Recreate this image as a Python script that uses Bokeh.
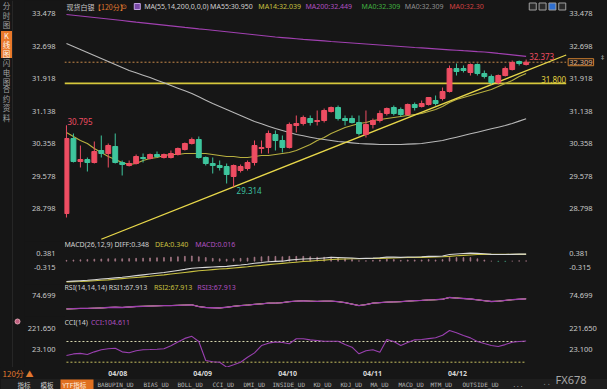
from bokeh.plotting import figure
from bokeh.models import ColumnDataSource, Range1d, LinearAxis, FixedTicker, Label, NumeralTickFormatter
from bokeh.layouts import column, row
from bokeh.embed import file_html
from bokeh.resources import INLINE
from bokeh.core.properties import value

# ---------------- data ----------------
opens = [28.678, 30.478, 29.926, 29.974, 29.902, 30.190, 30.118, 30.286, 29.902, 29.830,
         29.878, 30.022, 29.998, 30.094, 30.022, 30.022, 30.094, 30.214, 30.358, 30.454,
         30.022, 29.878, 29.830, 29.806, 29.566, 29.710, 29.758, 29.902, 30.238, 30.262,
         30.574, 30.430, 30.262, 30.790, 30.838, 30.958, 30.886, 30.910, 31.126, 31.222,
         30.958, 30.958, 30.862, 30.574, 30.814, 30.910, 31.078, 31.222, 31.174, 31.054,
         31.294, 31.246, 31.294, 31.390, 31.438, 31.606, 32.158, 32.158, 32.062, 32.254,
         32.038, 31.966, 31.822, 31.990, 32.134, 32.326, 32.254]
highs = [30.795, 30.598, 30.310, 30.022, 30.406, 30.550, 30.358, 30.598, 29.950, 29.950,
         30.094, 30.118, 30.118, 30.166, 30.118, 30.190, 30.262, 30.382, 30.502, 30.526,
         30.046, 30.022, 29.950, 29.878, 29.854, 29.854, 29.950, 30.430, 30.430, 30.670,
         30.670, 30.550, 30.862, 31.030, 31.030, 31.030, 31.150, 31.198, 31.246, 31.270,
         31.030, 31.030, 31.030, 31.150, 30.958, 31.150, 31.222, 31.270, 31.222, 31.318,
         31.342, 31.390, 31.462, 31.510, 31.702, 32.230, 32.278, 32.230, 32.278, 32.278,
         32.110, 32.014, 32.014, 32.206, 32.350, 32.350, 32.373]
lows = [28.582, 29.902, 29.782, 29.686, 29.878, 30.022, 29.782, 29.878, 29.590, 29.806,
        29.854, 29.902, 29.974, 30.022, 29.998, 29.998, 30.070, 30.190, 30.334, 29.998,
        29.830, 29.638, 29.710, 29.398, 29.314, 29.662, 29.710, 29.830, 30.118, 30.118,
        30.190, 30.142, 30.238, 30.622, 30.790, 30.790, 30.790, 30.862, 31.102, 30.910,
        30.790, 30.838, 30.550, 30.502, 30.718, 30.862, 31.030, 31.030, 31.006, 31.030,
        31.150, 31.222, 31.270, 31.270, 31.390, 31.582, 31.990, 32.062, 31.990, 31.990,
        31.918, 31.774, 31.774, 31.966, 32.110, 32.230, 32.230]
closes = [30.478, 29.926, 29.974, 29.902, 30.166, 30.118, 30.310, 29.902, 29.854, 29.878,
          30.046, 29.998, 30.094, 30.046, 30.094, 30.118, 30.238, 30.358, 30.454, 30.022,
          29.878, 29.830, 29.782, 29.614, 29.830, 29.806, 29.902, 30.310, 30.262, 30.598,
          30.430, 30.262, 30.814, 30.838, 30.982, 30.862, 30.910, 31.150, 31.222, 30.958,
          30.910, 30.862, 30.598, 30.814, 30.910, 31.078, 31.198, 31.078, 31.054, 31.294,
          31.222, 31.318, 31.462, 31.318, 31.606, 32.158, 32.086, 32.110, 32.254, 32.038,
          31.966, 31.822, 31.990, 32.158, 32.302, 32.278, 32.309]
ma14 = [30.622, 30.526, 30.430, 30.358, 30.238, 30.142, 30.046, 29.974, 29.902, 29.854,
        29.878, 29.950, 29.998, 30.022, 30.070, 30.094, 30.094, 30.118, 30.118, 30.118,
        30.118, 30.094, 30.070, 30.046, 30.046, 30.022, 30.022, 30.046, 30.070, 30.070,
        30.094, 30.118, 30.142, 30.190, 30.262, 30.334, 30.430, 30.502, 30.598, 30.670,
        30.742, 30.790, 30.838, 30.862, 30.910, 30.934, 30.958, 30.982, 31.006, 31.030,
        31.054, 31.078, 31.126, 31.174, 31.246, 31.342, 31.414, 31.462, 31.510, 31.558,
        31.606, 31.654, 31.726, 31.798, 31.870, 31.966, 32.039]
ma55 = [32.758, 32.686, 32.614, 32.542, 32.470, 32.398, 32.326, 32.254, 32.182, 32.110,
        32.054, 31.998, 31.942, 31.878, 31.814, 31.750, 31.686, 31.622, 31.558, 31.478,
        31.398, 31.318, 31.246, 31.174, 31.102, 31.030, 30.958, 30.886, 30.830, 30.774,
        30.718, 30.670, 30.622, 30.574, 30.542, 30.510, 30.478, 30.454, 30.430, 30.406,
        30.390, 30.374, 30.358, 30.350, 30.342, 30.334, 30.334, 30.334, 30.334, 30.342,
        30.350, 30.358, 30.382, 30.406, 30.430, 30.470, 30.510, 30.550, 30.590, 30.630,
        30.670, 30.710, 30.750, 30.790, 30.840, 30.895, 30.950]
ma200 = [33.454, 33.436, 33.418, 33.400, 33.382, 33.364, 33.346, 33.328, 33.310, 33.290,
         33.270, 33.252, 33.234, 33.216, 33.198, 33.180, 33.162, 33.144, 33.128, 33.110,
         33.094, 33.076, 33.058, 33.040, 33.022, 33.004, 32.986, 32.968, 32.950, 32.932,
         32.914, 32.900, 32.886, 32.872, 32.858, 32.845, 32.832, 32.819, 32.806, 32.794,
         32.782, 32.770, 32.758, 32.746, 32.734, 32.722, 32.710, 32.698, 32.686, 32.674,
         32.662, 32.651, 32.640, 32.629, 32.618, 32.607, 32.596, 32.585, 32.575, 32.564,
         32.554, 32.538, 32.520, 32.503, 32.485, 32.467, 32.449]
diff = [-1.01, -0.99, -0.97, -0.95, -0.92, -0.89, -0.86, -0.83, -0.80, -0.76,
        -0.72, -0.68, -0.64, -0.60, -0.56, -0.51, -0.46, -0.41, -0.35, -0.33,
        -0.31, -0.29, -0.27, -0.26, -0.22, -0.19, -0.15, -0.10, -0.07, -0.03,
        -0.01, 0.00, 0.05, 0.08, 0.11, 0.12, 0.13, 0.16, 0.19, 0.18,
        0.17, 0.16, 0.13, 0.14, 0.15, 0.17, 0.20, 0.20, 0.19, 0.21,
        0.21, 0.22, 0.24, 0.24, 0.26, 0.33, 0.36, 0.38, 0.40, 0.39,
        0.37, 0.34, 0.33, 0.33, 0.34, 0.35, 0.348]
dea = [-1.03, -1.02, -1.01, -0.99, -0.97, -0.95, -0.93, -0.90, -0.87, -0.84,
       -0.81, -0.78, -0.75, -0.71, -0.68, -0.64, -0.60, -0.56, -0.52, -0.48,
       -0.45, -0.42, -0.39, -0.37, -0.34, -0.31, -0.28, -0.24, -0.21, -0.17,
       -0.14, -0.11, -0.08, -0.05, -0.02, 0.00, 0.03, 0.05, 0.08, 0.10,
       0.11, 0.12, 0.12, 0.13, 0.13, 0.14, 0.15, 0.16, 0.17, 0.18,
       0.18, 0.19, 0.20, 0.21, 0.22, 0.24, 0.27, 0.29, 0.31, 0.33,
       0.34, 0.34, 0.34, 0.34, 0.34, 0.34, 0.340]
macd_hist = [0.04, 0.06, 0.07, 0.08, 0.10, 0.11, 0.12, 0.12, 0.12, 0.13,
             0.14, 0.15, 0.16, 0.17, 0.18, 0.20, 0.22, 0.24, 0.26, 0.22,
             0.18, 0.14, 0.12, 0.10, 0.12, 0.14, 0.16, 0.20, 0.22, 0.24,
             0.24, 0.22, 0.24, 0.24, 0.24, 0.22, 0.20, 0.20, 0.20, 0.16,
             0.12, 0.08, 0.02, 0.02, 0.04, 0.06, 0.10, 0.08, 0.04, 0.06,
             0.06, 0.06, 0.08, 0.06, 0.08, 0.18, 0.18, 0.18, 0.18, 0.12,
             0.06, 0.00, -0.02, -0.02, 0.00, 0.02, 0.016]
rsi = [47.0, 47.5, 48.0, 48.0, 48.5, 49.0, 50.0, 50.5, 50.0, 51.0,
       52.0, 52.5, 53.0, 53.5, 54.0, 54.0, 54.5, 55.0, 55.5, 52.0,
       50.0, 49.5, 49.0, 50.5, 52.5, 54.0, 55.0, 56.5, 57.5, 59.0,
       59.0, 60.0, 62.0, 63.0, 63.7, 63.0, 62.5, 63.0, 63.0, 62.0,
       60.0, 57.0, 54.0, 56.0, 59.0, 60.0, 61.0, 61.5, 62.0, 63.0,
       64.0, 64.5, 65.5, 66.0, 67.0, 70.6, 69.5, 68.5, 67.5, 65.8,
       64.0, 62.3, 63.0, 64.5, 66.0, 67.0, 67.913]
cci = [-35, -20, -15, -25, 0, 20, 30, 35, 0, -9,
       10, 20, 22, 25, 30, 60, 95, 130, 150, 100,
       -83, -95, -100, -148, -125, -100, -52, -10, 61, 84,
       95, 90, 78, 126, 126, 116, 110, 103, 103, 103,
       70, 45, -19, 10, 20, -3, 120, 100, 61, 90,
       116, 120, 128, 136, 160, 206, 185, 158, 135, 100,
       80, 61, 52, 70, 93, 100, 104.611]
idx = list(range(len(closes)))

price_ticks = [33.478, 32.698, 31.918, 31.138, 30.358, 29.578, 28.798]
macd_ticks = [0.381, -0.315]
rsi_ticks = [74.699]
cci_ticks = [221.650, 23.100]
cci_levels = [100, -100]
date_pos = [8.5, 20.5, 32.5, 44.5, 56.5]
date_labels = ["04/08", "04/09", "04/10", "04/11", "04/12"]
trend_x = [5.0, 71.75]
trend_y = [28.06, 32.482]
support_level = 31.800
last_price = 32.309
max_price = 32.373
min_price = 29.314
first_high = 30.795

# ---------------- style / layout constants ----------------
BG = "#161616"
UP = "#ee4d62"
DOWN = "#3ec59d"
TXT = "#c8c8c8"
YEL = "#c8c040"
PUR = "#b050c0"
ORG = "#e07a30"
FONT = "Noto Sans"
CJK = "Noto Sans CJK SC"
MONO = "DejaVu Sans Mono"

SIDE_W = 24
PX0, STEP = 57.0, 7.08            # pixel of candle 0, pixels per candle
FRAME_L = 55


def xat(px):
    return (px - PX0) / STEP


X_START, X_END = xat(FRAME_L), xat(607)
PLOT_END = xat(565)
xr = Range1d(X_START, X_END)


def make_fig(h, y0, y1, top_px):
    f = figure(width=607 - SIDE_W, height=h, x_range=xr, y_range=Range1d(y0, y1),
               output_backend="svg", toolbar_location=None,
               x_axis_location=None, y_axis_location=None,
               min_border_left=FRAME_L - SIDE_W, min_border_right=0, min_border_top=0,
               min_border_bottom=0, background_fill_color=BG,
               border_fill_color=BG, outline_line_color=None)
    f.grid.visible = False

    def yat(py):
        return y1 - (py - top_px) / h * (y1 - y0)
    return f, yat


def add_yaxes(f, ticks):
    ax = LinearAxis(ticker=FixedTicker(ticks=ticks),
                    formatter=NumeralTickFormatter(format="0.000"),
                    axis_line_color=None, major_tick_line_color=None,
                    minor_tick_line_color=None, major_label_standoff=3,
                    major_label_text_color=TXT,
                    major_label_text_font=FONT,
                    major_label_text_font_size="7.5px")
    f.add_layout(ax, "left")
    # right-hand price scale labels
    f.text(x=[xat(568)] * len(ticks), y=ticks, text=[f"{t:.3f}" for t in ticks],
           text_color=TXT, text_font=value(FONT), text_font_size="7.5px",
           text_align="left", text_baseline="middle")


def lab(f, x, y, text, color=TXT, size="7px", font=FONT, align="left",
        baseline="middle", style="normal", **kw):
    f.add_layout(Label(x=x, y=y, text=text, text_color=color, text_font_size=size,
                       text_font=font, text_align=align, text_baseline=baseline,
                       text_font_style=style, **kw))


# ---------------- main price panel ----------------
pm, ym = make_fig(241, 28.006, 33.79, 0)
add_yaxes(pm, price_ticks)

colors = [UP if c >= o else DOWN for o, c in zip(opens, closes)]
src = ColumnDataSource(dict(x=idx, o=opens, h=highs, l=lows, c=closes,
                            top=[max(o, c) for o, c in zip(opens, closes)],
                            bot=[min(o, c) for o, c in zip(opens, closes)],
                            col=colors, ma14=ma14, ma55=ma55, ma200=ma200))

pm.line([X_START, PLOT_END], [last_price] * 2, line_color="#c88a4a",
        line_dash="2 2", line_width=1)
pm.line([X_START, PLOT_END], [support_level] * 2, line_color="#d6c83c", line_width=1.6)
pm.line("x", "ma200", source=src, line_color="#a040b0", line_width=1.2)
pm.line("x", "ma55", source=src, line_color="#b8b8b8", line_width=1.1)
pm.line("x", "ma14", source=src, line_color="#b8b040", line_width=1.1)
pm.line(trend_x, trend_y, line_color="#e8d84a", line_width=1.3)
pm.segment("x", "l", "x", "h", source=src, line_color="col", line_width=1)
pm.vbar(x="x", top="top", bottom="bot", width=0.7, source=src,
        fill_color="col", line_color="col", line_width=1)

lab(pm, idx[0], first_high, f"{first_high:.3f}", color=UP, size="8px",
    baseline="bottom", x_offset=1)
lab(pm, idx[24], min_price, f"{min_price:.3f}", color="#3cc0a0", size="8px",
    baseline="top", x_offset=3)
lab(pm, idx[-1], max_price, f"{max_price:.3f}", color=UP, size="8px",
    baseline="bottom", x_offset=3)
lab(pm, PLOT_END, support_level, f"{support_level:.3f}", color="#e0d040", size="8px",
    align="right", baseline="bottom")
lab(pm, xat(567), last_price, f"{last_price:.3f}", color="#e8b080", size="7.5px",
    border_line_color="#d08030", background_fill_color="#1a1a1a", padding=1)
lab(pm, xat(602), ym(57), "‡", color="#b0b0b0", size="7px", align="center")

# title line
ty = ym(6)
title_parts = [
    (57, "现货白银", "#c8c8c8", CJK),
    (85, "【120分】", ORG, CJK),
    (112, "⊙", ORG, FONT),
    (136, "MA(55,14,200,0,0,0)", "#d0d0d0", FONT),
    (203, "MA55:30.950", "#d0d0d0", FONT),
    (252, "MA14:32.039", YEL, FONT),
    (300, "MA200:32.449", PUR, FONT),
    (357, "MA0:32.309", "#40b040", FONT),
    (401, "MA0:32.309", "#909090", FONT),
    (446, "MA0:32.30", "#d04040", FONT),
]
for px, t, c, fnt in title_parts:
    lab(pm, xat(px), ty, t, color=c, size="7px", font=fnt)
pm.rect(x=[xat(129)], y=[ty], width=6, height=6, width_units="screen",
        height_units="screen", fill_color="#7a4aa8", line_color="#c0a0e0")
pm.rect(x=[xat(531), xat(541), xat(551), xat(561)], y=[ty] * 4, width=7, height=7,
        width_units="screen", height_units="screen",
        fill_color=["#2a2a2a", "#2a2a2a", "#2f6fd0", "#2a2a2a"], line_color="#a0a0a0")

# ---------------- MACD panel ----------------
pd_, yd = make_fig(43, -1.160, 0.978, 241)
add_yaxes(pd_, macd_ticks)
hsrc = ColumnDataSource(dict(x=idx, h=macd_hist,
                             col=["#a87a88" if v >= 0 else "#3f9878" for v in macd_hist],
                             diff=diff, dea=dea))
pd_.vbar(x="x", top="h", bottom=0, width=0.12, source=hsrc, fill_color="col",
         line_color="col", line_width=0.7)
pd_.line("x", "dea", source=hsrc, line_color=YEL, line_width=1.1)
pd_.line("x", "diff", source=hsrc, line_color="#d8d8d8", line_width=1.1)
lab(pd_, xat(55), yd(244), "MACD(26,12,9) DIFF:0.348", color="#d0d0d0")
lab(pd_, xat(147), yd(244), "DEA:0.340", color=YEL)
lab(pd_, xat(188), yd(244), "MACD:0.016", color=PUR)

# ---------------- RSI panel ----------------
pr, yr_ = make_fig(32, 31.44, 97.36, 284)
add_yaxes(pr, rsi_ticks)
rsrc = ColumnDataSource(dict(x=idx, r=rsi))
pr.line("x", "r", source=rsrc, line_color="#d0d0d0", line_width=1)
pr.line("x", "r", source=rsrc, line_color=YEL, line_width=1)
pr.line("x", "r", source=rsrc, line_color="#a040b0", line_width=1.3)
lab(pr, xat(55), yr_(287), "RSI(14,14,14) RSI1:67.913", color="#d0d0d0")
lab(pr, xat(146), yr_(287), "RSI2:67.913", color=YEL)
lab(pr, xat(190), yr_(287), "RSI3:67.913", color=PUR)

# ---------------- CCI panel ----------------
pc, yc = make_fig(51, -151.2, 341.5, 316)
add_yaxes(pc, cci_ticks)
csrc = ColumnDataSource(dict(x=idx, c=cci))
pc.line([idx[0], idx[-1]], [cci_levels[0]] * 2, line_color="#d8d8b0",
        line_dash="2 2", line_width=1)
pc.line([idx[0], idx[-1]], [cci_levels[1]] * 2, line_color="#c8c060",
        line_dash="2 2", line_width=1)
pc.line("x", "c", source=csrc, line_color="#9a40b0", line_width=1.1)
lab(pc, xat(55), yc(322), "CCI(14)", color="#d0d0d0")
lab(pc, xat(82), yc(322), "CCI:104.611", color=PUR)

# ---------------- left sidebar (page pixel coordinates) ----------------
ps = figure(width=SIDE_W, height=367, x_range=Range1d(0, SIDE_W), y_range=Range1d(367, 0),
            output_backend="svg", toolbar_location=None, x_axis_location=None,
            y_axis_location=None, min_border=0, background_fill_color=BG,
            border_fill_color=BG, outline_line_color=None)
ps.grid.visible = False
ps.quad(left=[0.5], right=[11.5], top=[30.5], bottom=[57.5], fill_color="#e8782a",
        line_color=None)
side_chars = ["分", "时", "图", "K", "线", "图", "闪", "电", "图", "合", "约", "资", "料"]
side_y = [5, 14.5, 24, 35, 44, 53, 62, 71.5, 81, 88, 97.5, 107, 116.5]
side_col = ["#a0a0a0"] * 3 + ["#fff4e8"] * 3 + ["#a0a0a0"] * 7
ps.text(x=[6] * len(side_chars), y=side_y, text=side_chars, text_color=side_col,
        text_font=value(CJK), text_font_size="7.5px", text_align="center",
        text_baseline="middle")
ps.line([12, 12], [0, 367], line_color="#262626", line_width=1)
ps.scatter(x=[17], y=[321], size=5, fill_color="#c06080", line_color="#e0a0b0")

# ---------------- bottom strip: dates + tab bar ----------------
pb = figure(width=607, height=22, x_range=Range1d(xat(0), X_END), y_range=Range1d(389, 367),
            output_backend="svg", toolbar_location=None, x_axis_location=None,
            y_axis_location=None, min_border=0, background_fill_color=BG,
            border_fill_color=BG, outline_line_color=None)
pb.grid.visible = False
pb.text(x=date_pos, y=[372.5] * len(date_pos), text=date_labels, text_color="#d8d8d8",
        text_font=value(FONT), text_font_size="7px", text_font_style="bold",
        text_align="center", text_baseline="middle")
pb.text(x=[xat(2)], y=[373], text=["120分 ▲"], text_color=ORG, text_font=value(CJK),
        text_font_size="8px", text_align="left", text_baseline="middle")
pb.quad(left=[xat(0)], right=[xat(607)], top=[378.5], bottom=[389], fill_color="#1e1e1e",
        line_color=None)
pb.quad(left=[xat(60)], right=[xat(93)], top=[379], bottom=[389], fill_color="#e07020",
        line_color=None)
tab_x = [17, 40, 62, 97, 143, 177, 212, 243, 272, 313, 340, 370, 398, 430, 462, 512]
tab_t = ["指标", "模板", "YTF指标", "BABUPIN_UD", "BIAS_UD", "BOLL_UD", "CCI_UD", "DMI_UD",
         "INSIDE_UD", "KD_UD", "KDJ_UD", "MA_UD", "MACD_UD", "MTM_UD", "OUTSIDE_UD", "..."]
cjk_tabs = [0, 1, 2]
pb.text(x=[xat(tab_x[i]) for i in cjk_tabs], y=[384] * 3, text=[tab_t[i] for i in cjk_tabs],
        text_color=["#d0d0d0", "#d0d0d0", "#fff0e0"], text_font=value(CJK),
        text_font_size="6.5px", text_align="left", text_baseline="middle")
pb.text(x=[xat(px) for px in tab_x[3:]], y=[384] * (len(tab_x) - 3), text=tab_t[3:],
        text_color="#b4b4b4", text_font=value(MONO), text_font_size="6px",
        text_align="left", text_baseline="middle")
pb.text(x=[xat(543)], y=[381], text=[". ."], text_color="#909090", text_font=value(FONT),
        text_font_size="8px", text_align="left", text_baseline="middle")
pb.text(x=[xat(555)], y=[379], text=["FX678"], text_color="#a8a8a8", text_font=value(FONT),
        text_font_size="11px", text_align="left", text_baseline="middle")

panels = column(pm, pd_, pr, pc, spacing=0, styles={"background-color": BG})
top = row(ps, panels, spacing=0, styles={"background-color": BG})
layout = column(top, pb, spacing=0, styles={"background-color": BG})
open("out.html", "w").write(file_html(layout, INLINE))
